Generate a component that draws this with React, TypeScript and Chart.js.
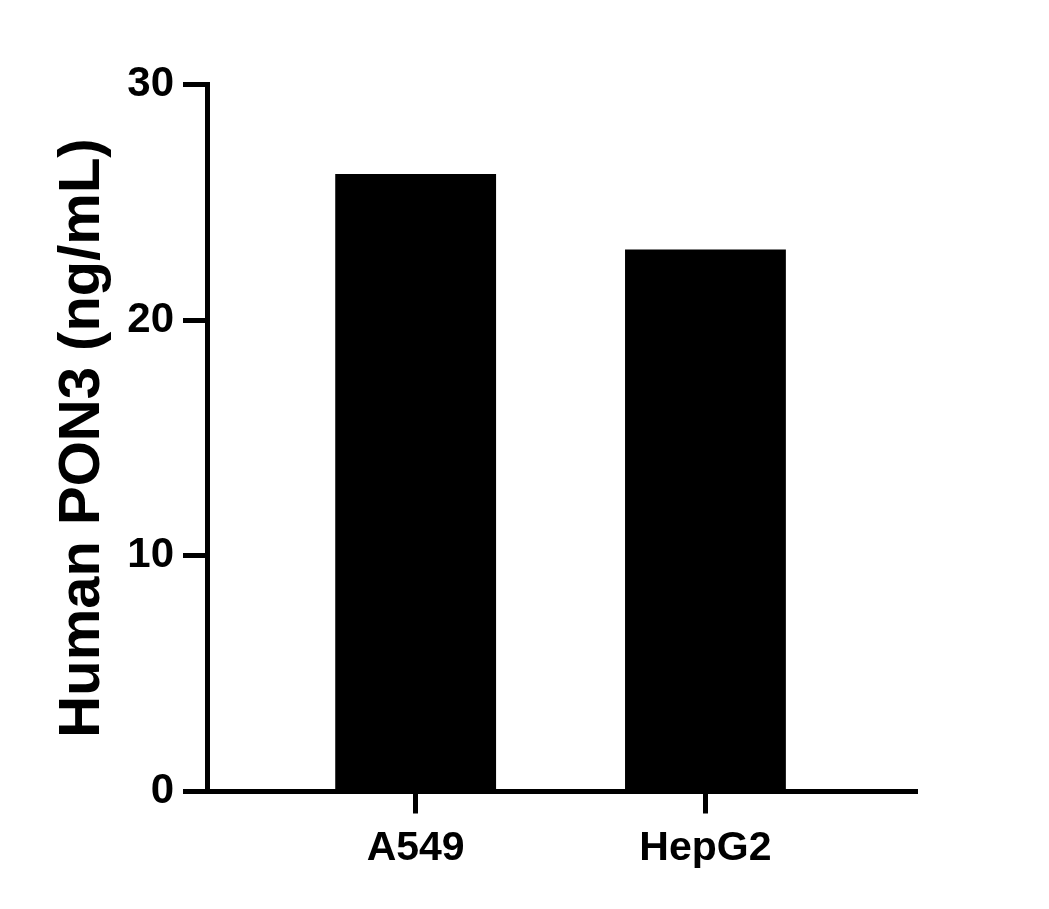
import { useEffect, useRef } from "react";
import { Chart, registerables } from "chart.js";

Chart.register(...registerables);

const categories = ["A549", "HepG2"];
const values = [26.2, 23.0];
const yTicks = [0, 10, 20, 30];
const yTitle = "Human PON3 (ng/mL)";

const FONT = "'Liberation Sans', Arial, Helvetica, sans-serif";

export default function App() {
  const ref = useRef<HTMLCanvasElement>(null);
  useEffect(() => {
    const chart = new Chart(ref.current as HTMLCanvasElement, {
      type: "bar",
      data: {
        datasets: [
          {
            data: values.map((v, i) => ({ x: i, y: v })),
            backgroundColor: "#000000",
            borderWidth: 0,
            barPercentage: 0.555,
            categoryPercentage: 1,
          },
        ],
      },
      options: {
        animation: false,
        responsive: false,
        layout: { padding: { left: 0, right: 132, top: 84.5, bottom: 0 } },
        plugins: { legend: { display: false }, tooltip: { enabled: false } },
        scales: {
          x: {
            type: "linear",
            min: -0.72,
            max: 1.73,
            offset: false,
            afterBuildTicks: (s: any) => {
              s.ticks = categories.map((_, i) => ({ value: i }));
            },
            afterFit: (s: any) => {
              s.height = 909 - 791.5;
            },
            ticks: {
              callback: (v: any) => categories[v] ?? "",
              color: "#000",
              font: { family: FONT, size: 41, weight: "bold" },
              padding: 11,
              maxRotation: 0,
              autoSkip: false,
            },
            grid: {
              display: true,
              drawOnChartArea: false,
              drawTicks: true,
              tickLength: 22,
              tickWidth: 5,
              tickColor: "#000",
              offset: false,
            },
            border: { display: true, color: "#000", width: 5 },
          },
          y: {
            type: "linear",
            min: 0,
            max: 30,
            afterBuildTicks: (s: any) => {
              s.ticks = yTicks.map((v) => ({ value: v }));
            },
            afterFit: (s: any) => {
              s.width = 207;
            },
            ticks: {
              color: "#000",
              font: { family: FONT, size: 42, weight: "bold" },
              padding: 9,
            },
            grid: {
              display: true,
              drawOnChartArea: false,
              drawTicks: true,
              tickLength: 24,
              tickWidth: 5,
              tickColor: "#000",
            },
            border: { display: true, color: "#000", width: 5 },
            title: {
              display: true,
              text: yTitle,
              color: "#000",
              font: { family: FONT, size: 58, weight: "bold" },
              padding: { top: 48, bottom: 0 },
            },
          },
        },
      },
    } as any);
    return () => chart.destroy();
  }, []);
  return (
    <div style={{ position: "fixed", left: 0, top: 0, width: 1049, height: 909, background: "#fff" }}>
      <canvas ref={ref} width={1049} height={909} style={{ width: 1049, height: 909, display: "block" }} />
    </div>
  );
}
